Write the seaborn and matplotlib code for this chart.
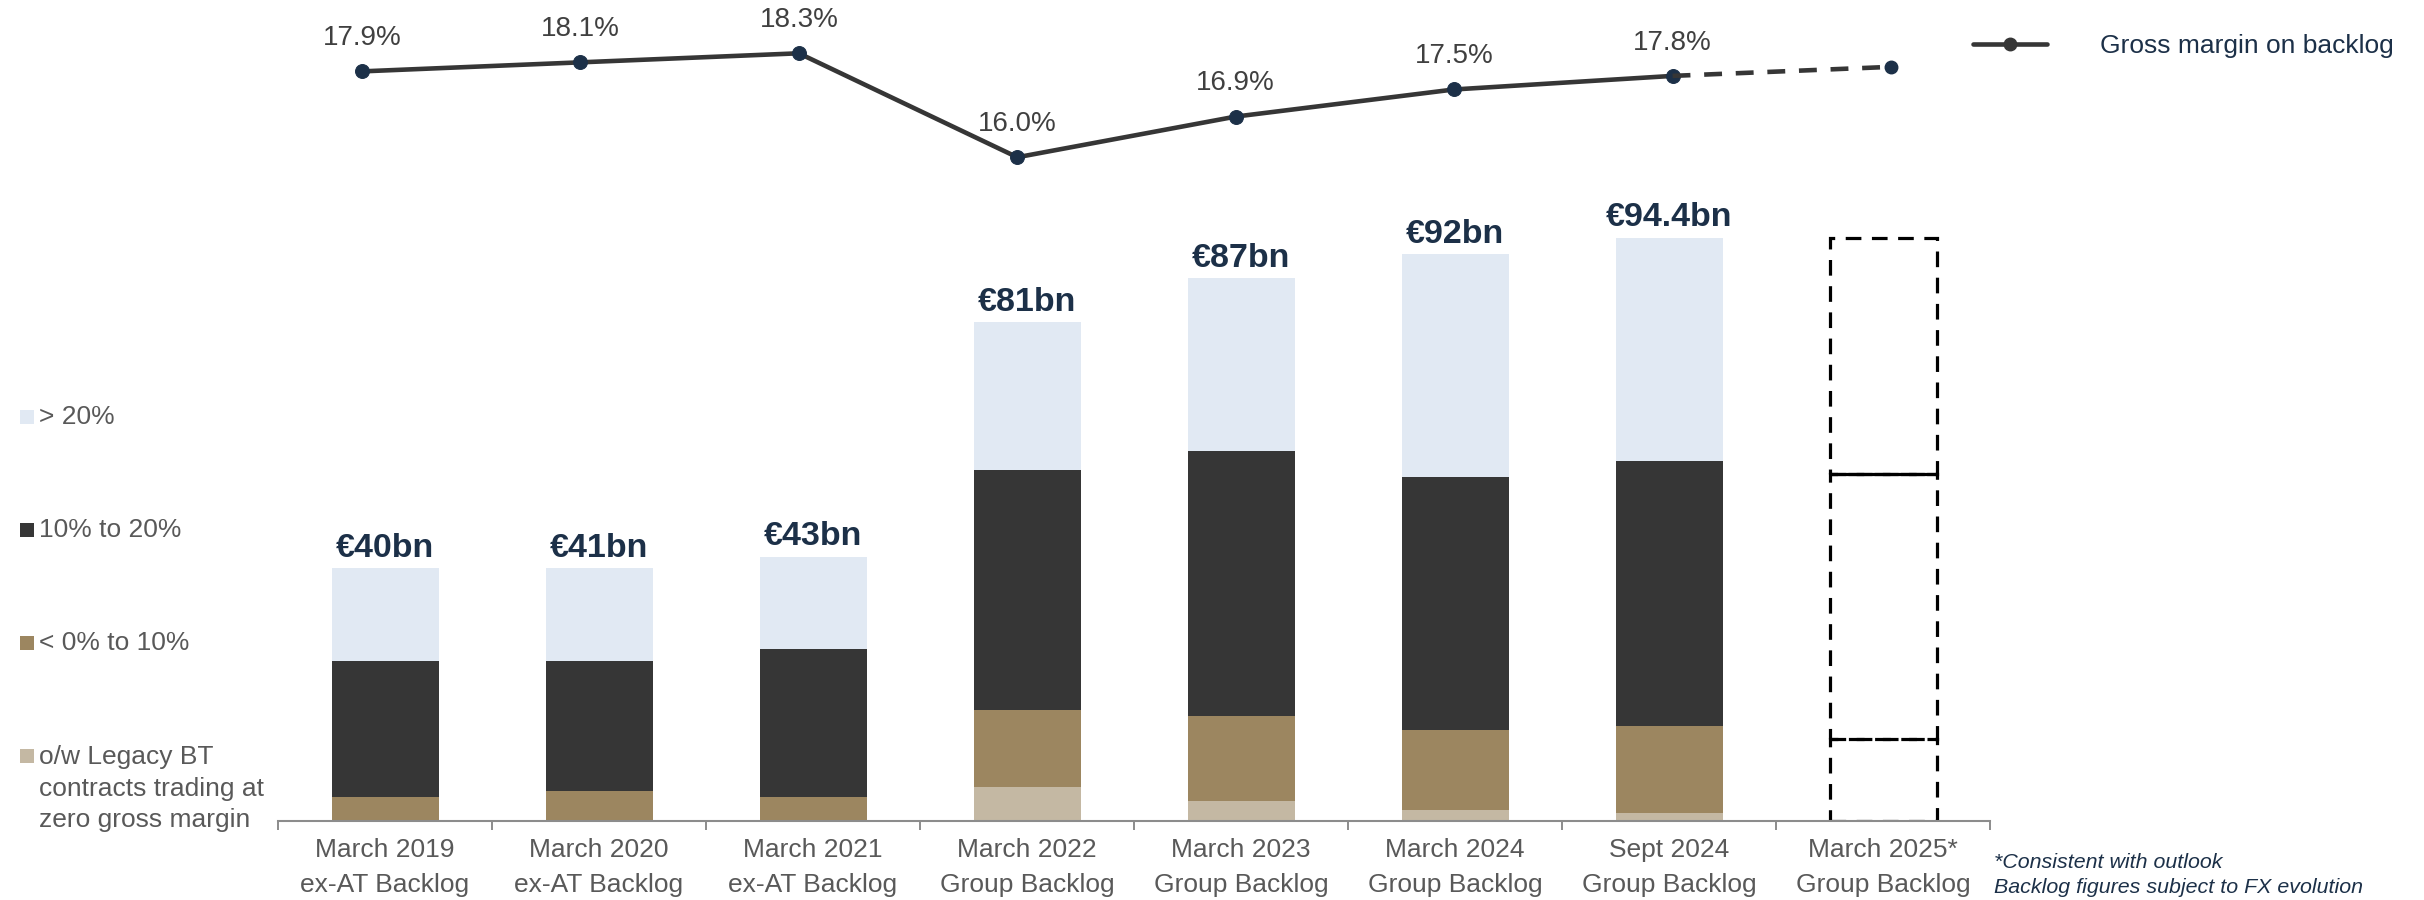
import numpy as np
import pandas as pd
import matplotlib
matplotlib.use("Agg")
from matplotlib import pyplot as plt
from matplotlib.patches import Rectangle
from matplotlib.lines import Line2D
import seaborn as sns

# Chart data (in EUR bn)
categories = ["March 2019\nex-AT Backlog", "March 2020\nex-AT Backlog", "March 2021\nex-AT Backlog",
              "March 2022\nGroup Backlog", "March 2023\nGroup Backlog", "March 2024\nGroup Backlog",
              "Sept 2024\nGroup Backlog", "March 2025*\nGroup Backlog"]
legacy_bt = [0.0, 0.0, 0.0, 5.5, 3.3, 1.8, 1.3]
low_margin = [3.9, 4.9, 3.9, 12.4, 13.7, 13.0, 14.0]
mid_margin = [22.0, 21.0, 23.9, 38.9, 42.9, 40.9, 43.0]
high_margin = [15.0, 15.0, 15.0, 24.0, 28.0, 36.0, 36.1]
total_labels = ["€40bn", "€41bn", "€43bn", "€81bn", "€87bn", "€92bn", "€94.4bn"]

# March 2025 outlook box (segment sizes)
outlook = [13.3, 42.8, 38.3]

# Gross margin on backlog (%)
margin = [17.9, 18.1, 18.3, 16.0, 16.9, 17.5, 17.8]
margin_outlook = 18.0

layer_names = ["o/w Legacy BT\ncontracts trading at\nzero gross margin", "< 0% to 10%", "10% to 20%", "> 20%"]
layer_colors = ["#C4B8A3", "#9C8660", "#363636", "#E1E9F3"]

navy = "#1C3048"
grey_txt = "#595959"

sns.set_style("white")
plt.rcParams["font.family"] = ["Liberation Sans", "DejaVu Sans"]

W, H = 2424, 900
fig = plt.figure(figsize=(W / 100, H / 100), dpi=100)

# ---- stacked bars ----
ax = fig.add_axes([278 / W, 79 / H, 1712 / W, 681 / H])
actual = categories[:len(margin)]
df = pd.DataFrame({"period": actual, "legacy": legacy_bt, "low": low_margin,
                   "mid": mid_margin, "high": high_margin})
df["c1"] = df["legacy"]
df["c2"] = df["c1"] + df["low"]
df["c3"] = df["c2"] + df["mid"]
df["c4"] = df["c3"] + df["high"]

# draw tallest cumulative first so the lower layers sit on top
for col, color in zip(["c4", "c3", "c2", "c1"], layer_colors[::-1]):
    sns.barplot(data=df, x="period", y=col, order=categories, color=color,
                width=0.5, linewidth=0, saturation=1, ax=ax)

for i, (tot, lab) in enumerate(zip(df["c4"], total_labels)):
    ax.annotate(lab, (i, tot), xytext=(0, 3), textcoords="offset points",
                ha="center", va="bottom", fontsize=24.5, fontweight="bold", color=navy)

# outlook box for March 2025
xo = len(margin)
bottoms = np.concatenate([[0], np.cumsum(outlook)[:-1]])
bars = ax.bar([xo] * len(outlook), outlook, bottom=bottoms, width=0.5, fill=False,
              edgecolor="black", linewidth=2.3, linestyle=(0, (4.9, 3.3)))
mid_top = bottoms[2]
ax.hlines(mid_top, bars[1].get_x(), bars[1].get_x() + bars[1].get_width(),
          color="black", linewidth=2.3)

ax.set_xlim(-0.5, len(categories) - 0.5)
ax.set_ylim(0, 110.2)
ax.set_ylabel("")
ax.set_xlabel("")
ax.set_yticks([])
ax.set_xticks(range(len(categories)))
ax.set_xticklabels(categories, fontsize=19, color=grey_txt, linespacing=1.55)
ax.set_xticks(np.arange(-0.5, len(categories)), minor=True)
ax.tick_params(axis="x", which="major", length=0, pad=12.5)
ax.tick_params(axis="x", which="minor", bottom=True, length=6.5, width=1.4, color="#8C8C8C", direction="out")
for s in ["left", "top", "right"]:
    ax.spines[s].set_visible(False)
ax.spines["bottom"].set_color("#8C8C8C")
ax.spines["bottom"].set_linewidth(1.5)
ax.patch.set_alpha(0)

# ---- gross margin line ----
axl = fig.add_axes([252.8 / W, 1 - 180 / H, 1747.4 / W, 180 / H])
line_df = pd.DataFrame({"x": range(len(margin)), "m": margin})
sns.lineplot(data=line_df, x="x", y="m", color="#363636", linewidth=3.3, marker="o",
             markersize=10, markerfacecolor=navy, markeredgecolor=navy, ax=axl)
fc_df = pd.DataFrame({"x": [len(margin) - 1, len(margin)], "m": [margin[-1], margin_outlook]})
sns.lineplot(data=fc_df, x="x", y="m", color="#363636", linewidth=3.3, linestyle=(0, (3.9, 3.0)),
             ax=axl)
axl.plot([len(margin)], [margin_outlook], "o", color=navy, markersize=9)
for i, v in enumerate(margin):
    axl.annotate(f"{v:.1f}%", (i, v), xytext=(0, 24), textcoords="offset points",
                 ha="center", va="center", fontsize=20, color="#404040")
axl.set_xlim(-0.5, len(categories) - 0.5)
axl.set_ylim(15.497, 19.479)
axl.axis("off")

# line legend
handle = Line2D([], [], color="#363636", linewidth=3.3, marker="o", markersize=9,
                markerfacecolor="#363636", markeredgecolor="#363636")
fig.legend([handle], ["Gross margin on backlog"], loc="center left",
           bbox_to_anchor=(1973 / W, 1 - 46 / H), frameon=False, fontsize=19,
           handlelength=2.8, handletextpad=2.0, borderpad=0, borderaxespad=0,
           labelcolor=navy)

# bar layer legend (left side)
legend_rows = [417, 530, 643, 756]
for name, color, yc in zip(layer_names[::-1], layer_colors[::-1], legend_rows):
    fig.add_artist(Rectangle((20 / W, 1 - (yc + 7) / H), 14 / W, 14 / H,
                             transform=fig.transFigure, color=color, linewidth=0))
    if "\n" in name:
        fig.text(39 / W, 1 - (yc - 11) / H, name, ha="left", va="top", fontsize=19,
                 color=grey_txt, linespacing=1.4)
    else:
        fig.text(39 / W, 1 - yc / H, name, ha="left", va="center", fontsize=19, color=grey_txt)

# footnote
fig.text(1994 / W, 1 - 875 / H, "*Consistent with outlook\nBacklog figures subject to FX evolution",
         ha="left", va="center", fontsize=15.4, style="italic", color=navy, linespacing=1.4)

fig.savefig("out.png", dpi=100)
